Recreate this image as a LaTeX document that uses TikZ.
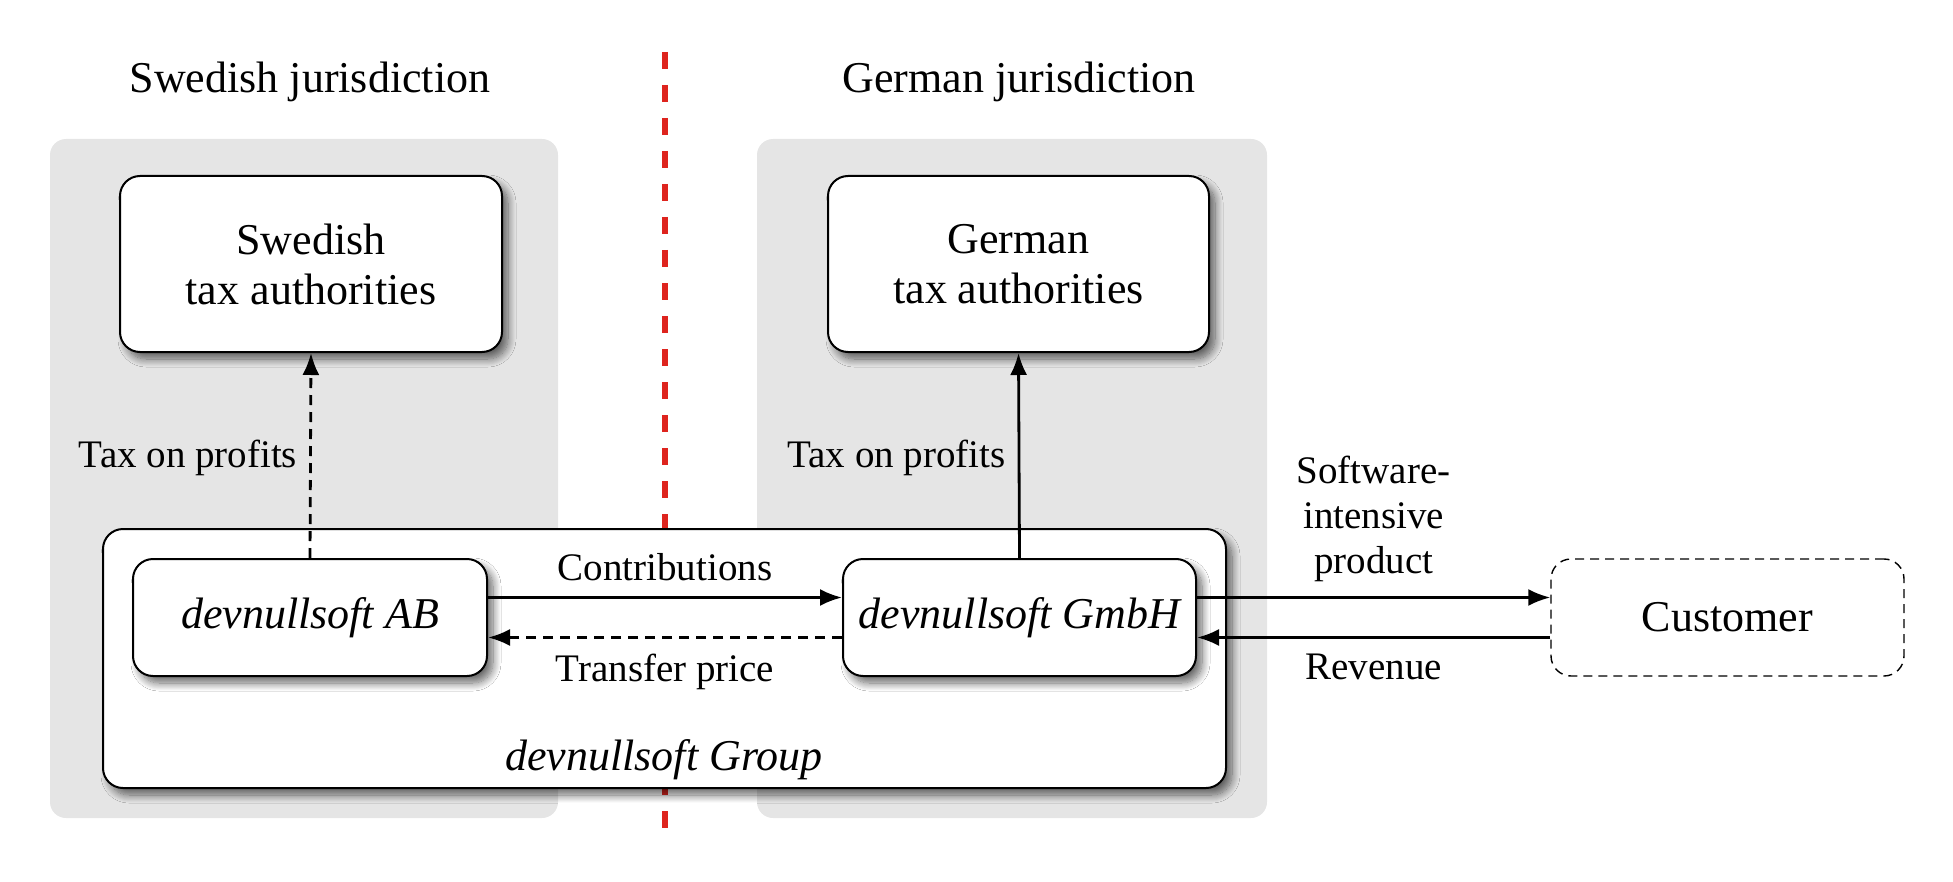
\documentclass[tikz,border=0pt]{standalone}
\usepackage{fontspec}
\setmainfont{Liberation Serif}
\usetikzlibrary{arrows.meta,shadows.blur}
\definecolor{panelgray}{RGB}{229,229,229}
\definecolor{borderred}{RGB}{222,36,30}
\tikzset{
  panel/.style={fill=panelgray, draw=none, rounded corners=8pt},
  bigfont/.style={font=\fontsize{22}{25}\selectfont},
  lblfont/.style={font=\fontsize{19.5}{22.5}\selectfont},
  softshadow/.style={blur shadow={shadow xshift=3pt, shadow yshift=-3.5pt, shadow blur radius=4pt, shadow blur steps=12, shadow opacity=60}},
  box/.style={draw=black, line width=1pt, fill=white, rounded corners=10pt, inner sep=0pt, align=center, bigfont, softshadow},
  custbox/.style={draw=black, line width=0.7pt, dash pattern=on 4.5pt off 3pt, fill=white, rounded corners=10pt, inner sep=0pt, align=center, bigfont},
  arr/.style={line width=1.4pt, -{Latex[length=11pt,width=8.5pt]}},
  dasharr/.style={arr, dash pattern=on 5pt off 3.5pt},
}
\begin{document}
\begin{tikzpicture}[x=0.5pt,y=-0.5pt]
\useasboundingbox (0,0) rectangle (1953,882);
% panels
\fill[panel] (50,139) rectangle (558,818);
\fill[panel] (757,139) rectangle (1267,818);
% red border
\coordinate (btop) at (665,52);
\coordinate (bbot) at (665,832);
\draw[borderred, line width=3pt, dash pattern=on 8.5pt off 8pt] (btop) -- (bbot);
% headings
\node[bigfont] (hsw) at (310,82) {Swedish jurisdiction};
\node[bigfont] (hde) at (1019,82) {German jurisdiction};
% tax authorities
\node[box, minimum width=191pt, minimum height=88pt] (stax) at (311,264) {Swedish\\tax authorities};
\node[box, minimum width=190.5pt, minimum height=88pt] (gtax) at (1018.5,264) {German\\tax authorities};
% group
\node[box, minimum width=561.5pt, minimum height=129.5pt] (group) at (664.5,658.5) {};
\node[font=\fontsize{22}{25}\selectfont\itshape, anchor=base] (glbl) at (664,770) {devnullsoft Group};
% companies
\node[box, font=\fontsize{22}{25}\selectfont\itshape, minimum width=177pt, minimum height=58.5pt] (ab) at (310,617.5) {devnullsoft AB};
\node[box, font=\fontsize{22}{25}\selectfont\itshape, minimum width=176.5pt, minimum height=58.5pt] (gmbh) at (1019.5,617.5) {devnullsoft GmbH};
\node[custbox, minimum width=176.5pt, minimum height=58.5pt] (cust) at (1727.5,617.5) {Customer};
% arrows
\draw[dasharr] (ab.north) -- (stax.south) node[midway, left, lblfont, inner sep=6pt, yshift=-1pt] {Tax on profits};
\draw[arr] (gmbh.north) -- (gtax.south) node[midway, left, lblfont, inner sep=6pt, yshift=-1pt] {Tax on profits};
\draw[arr] ([yshift=10pt]ab.east) -- ([yshift=10pt]gmbh.west) node[midway, above, lblfont, inner sep=7.5pt] {Contributions};
\draw[dasharr] ([yshift=-10pt]gmbh.west) -- ([yshift=-10pt]ab.east) node[midway, below, lblfont, inner sep=7.5pt] {Transfer price};
\draw[arr] ([yshift=10pt]gmbh.east) -- ([yshift=10pt]cust.west) node[midway, above, lblfont, align=center, inner sep=7pt] {Software-\\intensive\\product};
\draw[arr] ([yshift=-10pt]cust.west) -- ([yshift=-10pt]gmbh.east) node[midway, below, lblfont, inner sep=7.5pt] {Revenue};
\end{tikzpicture}
\end{document}
